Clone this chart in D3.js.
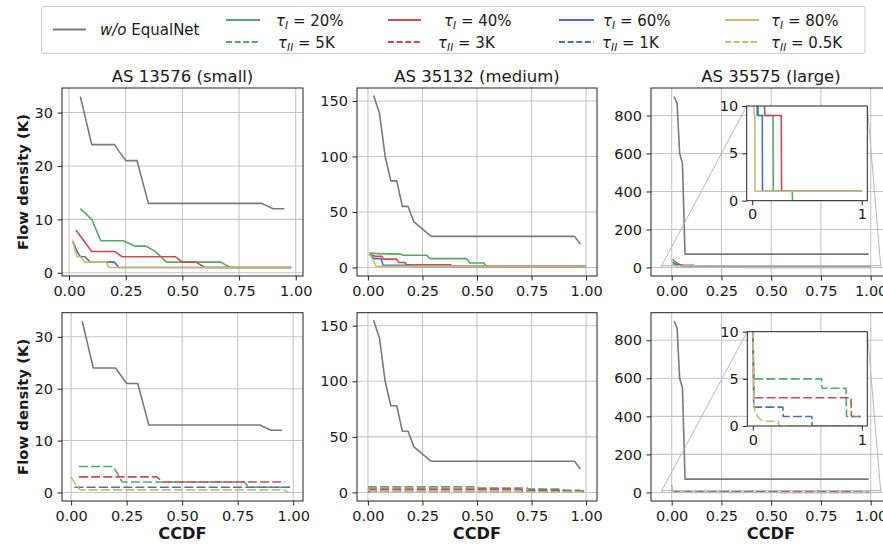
<!DOCTYPE html>
<html><head><meta charset="utf-8">
<script src="https://cdn.jsdelivr.net/npm/d3@7"></script>
<style>
body{margin:0;background:#fff}
svg{display:block}
text{font-family:"DejaVu Sans",sans-serif;fill:#1a1a1a}
</style>
</head><body>
<svg id="chart" width="883" height="546"></svg>
<script>
// ---------------- DATA ----------------
const titles = ["AS 13576 (small)", "AS 35132 (medium)", "AS 35575 (large)"];
const xTicks = [0, 0.25, 0.5, 0.75, 1.0];
const xTickLabels = ["0.00", "0.25", "0.50", "0.75", "1.00"];
const yTicksSmall = [0, 10, 20, 30];
const yTicksMedium = [0, 50, 100, 150];
const yTicksLarge = [0, 200, 400, 600, 800];
const insetXTicks = [0, 1];
const insetYTicks = [0, 5, 10];
const legendWo = ["w/o", " EqualNet"];
const legendTauI = ["20%", "40%", "60%", "80%"];
const legendTauII = ["5K", "3K", "1K", "0.5K"];

// AS 13576 (small)
const small_wo = [[0.05,33],[0.10,24],[0.20,24],[0.25,21],[0.30,21],[0.35,13],[0.85,13],[0.90,12],[0.95,12]];
const small_tI20 = [[0.05,12],[0.10,10],[0.14,6],[0.24,6],[0.29,5],[0.34,5],[0.38,4],[0.43,2],[0.67,2],[0.71,1],[0.98,1]];
const small_tI40 = [[0.03,8],[0.10,4],[0.20,4],[0.235,3],[0.47,3],[0.50,2],[0.56,2],[0.60,1],[0.98,1]];
const small_tI60 = [[0.015,6],[0.035,4],[0.05,3],[0.07,3],[0.094,2],[0.20,2],[0.22,1],[0.98,1]];
const small_tI80 = [[0.015,6],[0.035,3],[0.05,3],[0.07,2],[0.165,2],[0.175,1],[0.98,1]];
const small_tII5K = [[0.035,5],[0.19,5],[0.23,2],[0.78,2],[0.80,1],[0.985,1]];
const small_tII3K = [[0.035,3],[0.385,3],[0.415,2],[0.963,2]];
const small_tII1K = [[0.015,1],[0.985,1]];
const small_tII05K = [[0.0,3],[0.02,1.5],[0.04,0.5],[0.955,0.5],[0.98,0]];

// AS 35132 (medium)
const med_wo = [[0.026,155],[0.053,139],[0.079,100],[0.105,78],[0.132,78],[0.158,55],[0.184,55],[0.211,41],[0.29,28],[0.947,28],[0.974,21]];
const med_tI20 = [[0.005,13],[0.05,12.5],[0.15,12],[0.163,11],[0.27,11],[0.284,8],[0.452,8],[0.467,4],[0.533,4],[0.54,1],[1.0,1]];
const med_tI40 = [[0.005,12],[0.035,10],[0.065,10],[0.07,7.5],[0.132,7.5],[0.14,4.5],[0.17,4.5],[0.175,2.5],[0.38,2.5],[0.385,1],[1.0,1]];
const med_tI60 = [[0.005,12],[0.03,8],[0.06,8],[0.07,2],[0.2,2],[0.21,1],[1.0,1]];
const med_tI80 = [[0.005,13],[0.023,7],[0.038,1],[1.0,1]];
const med_tII5K = [[0.0,5],[0.5,5],[0.51,4],[0.73,4],[0.74,3],[0.88,3],[0.89,2],[0.97,2],[0.98,1],[1.0,1]];
const med_tII3K = [[0.0,3],[0.7,3],[0.71,2],[0.9,2],[0.91,1],[1.0,1]];
const med_tII1K = [[0.0,1],[1.0,1]];
const med_tII05K = [[0.0,3],[0.01,1.5],[0.03,0.5],[0.97,0.5],[1.0,0]];

// AS 35575 (large)
const large_wo = [[0.012,900],[0.027,865],[0.04,600],[0.054,550],[0.067,70],[0.99,70]];
const large_tI20 = [[0.005,45],[0.012,35],[0.02,28],[0.03,22],[0.04,15],[0.055,10],[0.056,9],[0.19,9],[0.192,1],[0.365,1],[0.368,0],[1.0,0]];
const large_tI40 = [[0.005,20],[0.02,16],[0.04,14],[0.06,12],[0.11,11],[0.115,9],[0.265,9],[0.268,1],[1.0,1]];
const large_tI60 = [[0.005,30],[0.012,22],[0.02,18],[0.03,13],[0.045,10],[0.046,9],[0.092,9],[0.094,1],[1.0,1]];
const large_tI80 = [[0.005,20],[0.01,12],[0.018,9],[0.024,9],[0.026,1],[1.0,1]];
const large_tII5K = [[0.0,14],[0.008,5],[0.63,5],[0.635,4],[0.855,4],[0.86,1],[0.99,1]];
const large_tII3K = [[0.0,12],[0.01,3],[0.9,3],[0.905,1],[0.99,1]];
const large_tII1K = [[0.0,15],[0.009,2],[0.276,2],[0.28,1],[0.54,1],[0.545,0],[1.0,0]];
const large_tII05K = [[0.0,40],[0.003,10],[0.006,4],[0.01,2.5],[0.02,1.5],[0.04,1.1],[0.07,0.7],[0.1,0.5],[0.236,0.5],[0.24,0],[1.0,0]];

// ---------------- STYLE / LAYOUT ----------------
const COL = {wo:"#7a7a7a", c20:"#55a868", c40:"#c44e52", c60:"#4c72b0", c80:"#ccb974"};
const DASH = "9,3.2";
const svg = d3.select("#chart");

const panels = [
  {l:62, r:303, t:88, b:276, xd:[-0.031,1.032], yd:[-0.6,34.6], yt:yTicksSmall, title:titles[0], ylabel:true, xlabel:false,
   series:[[small_wo,"wo",0],[small_tI20,"c20",0],[small_tI40,"c40",0],[small_tI60,"c60",0],[small_tI80,"c80",0]]},
  {l:357, r:597, t:88, b:276, xd:[-0.05,1.05], yd:[-7.7,161.7], yt:yTicksMedium, title:titles[1],
   series:[[med_wo,"wo",0],[med_tI20,"c20",0],[med_tI40,"c40",0],[med_tI60,"c60",0],[med_tI80,"c80",0]]},
  {l:651, r:891, t:88, b:276, xd:[-0.104,1.102], yd:[-45,945], yt:yTicksLarge, title:titles[2],
   inset:{l:746.7, r:867.3, t:106, b:200.7},
   series:[[large_wo,"wo",0],[large_tI20,"c20",0],[large_tI40,"c40",0],[large_tI60,"c60",0],[large_tI80,"c80",0]]},
  {l:62, r:303, t:312.7, b:501, xd:[-0.041,1.044], yd:[-1.65,34.65], yt:yTicksSmall, ylabel:true, xlabel:true,
   series:[[small_wo,"wo",0],[small_tII5K,"c20",1],[small_tII3K,"c40",1],[small_tII1K,"c60",1],[small_tII05K,"c80",1]]},
  {l:357, r:597, t:312.7, b:501, xd:[-0.05,1.05], yd:[-7.7,161.7], yt:yTicksMedium, xlabel:true,
   series:[[med_wo,"wo",0],[med_tII5K,"c20",1],[med_tII3K,"c40",1],[med_tII1K,"c60",1],[med_tII05K,"c80",1]]},
  {l:651, r:891, t:312.7, b:501, xd:[-0.104,1.102], yd:[-45,945], yt:yTicksLarge, xlabel:true,
   inset:{l:747.3, r:867.3, t:331.7, b:426},
   series:[[large_wo,"wo",0],[large_tII5K,"c20",1],[large_tII3K,"c40",1],[large_tII1K,"c60",1],[large_tII05K,"c80",1]]}
];

let clipId = 0;
function drawSeries(g, x, y, series, l, r, t, b) {
  const id = "clip" + (clipId++);
  svg.append("clipPath").attr("id", id).append("rect")
    .attr("x", l).attr("y", t).attr("width", r - l).attr("height", b - t);
  const lg = g.append("g").attr("clip-path", `url(#${id})`);
  const line = d3.line().x(d => x(d[0])).y(d => y(d[1]));
  series.forEach(([data, c, dashed]) => {
    lg.append("path").attr("d", line(data)).attr("fill", "none")
      .attr("stroke", COL[c]).attr("stroke-width", 1.6)
      .attr("stroke-linejoin", "round")
      .attr("stroke-dasharray", dashed ? DASH : null);
  });
}

function styleAxis(sel, fs) {
  sel.select(".domain").remove();
  sel.selectAll(".tick line").attr("stroke", "#222").attr("stroke-width", 1);
  sel.selectAll(".tick text").attr("font-size", fs).attr("fill", "#1a1a1a")
    .attr("font-family", "DejaVu Sans");
}

panels.forEach(p => {
  const g = svg.append("g");
  const x = d3.scaleLinear().domain(p.xd).range([p.l, p.r]);
  const y = d3.scaleLinear().domain(p.yd).range([p.b, p.t]);
  // grid
  const gg = g.append("g").attr("stroke", "#c6c6c6").attr("stroke-width", 1.1);
  xTicks.forEach(v => gg.append("line").attr("x1", x(v)).attr("x2", x(v)).attr("y1", p.t).attr("y2", p.b));
  p.yt.forEach(v => gg.append("line").attr("x1", p.l).attr("x2", Math.min(p.r, 883)).attr("y1", y(v)).attr("y2", y(v)));
  // series
  drawSeries(g, x, y, p.series, p.l, p.r, p.t, p.b);
  // spines
  g.append("rect").attr("x", p.l).attr("y", p.t).attr("width", p.r - p.l).attr("height", p.b - p.t)
    .attr("fill", "none").attr("stroke", "#222").attr("stroke-width", 1);
  // axes
  const ax = g.append("g").attr("transform", `translate(0,${p.b})`)
    .call(d3.axisBottom(x).tickValues(xTicks).tickFormat((d, i) => xTickLabels[i]).tickSize(4.5).tickPadding(5.5));
  styleAxis(ax, "14.5px");
  const ay = g.append("g").attr("transform", `translate(${p.l},0)`)
    .call(d3.axisLeft(y).tickValues(p.yt).tickFormat(d3.format("d")).tickSize(4.5).tickPadding(4.5));
  styleAxis(ay, "14.5px");
  if (p.title) g.append("text").attr("x", (p.l + p.r) / 2).attr("y", 81.5).attr("text-anchor", "middle")
    .attr("font-size", "16.5px").text(p.title);
  if (p.ylabel) g.append("text").attr("transform", `translate(28,${(p.t + p.b) / 2}) rotate(-90)`)
    .attr("text-anchor", "middle").attr("font-size", "14.8px").attr("font-weight", "bold").text("Flow density (K)");
  if (p.xlabel) g.append("text").attr("y", 539)
    .attr("text-anchor", "middle").attr("font-size", "16.2px").attr("font-weight", "bold").text("CCDF")
    .attr("x", p.l === 62 ? 182.5 : (p.l === 357 ? 477 : 771));

  if (p.inset) {
    const ins = p.inset;
    const ix = d3.scaleLinear().domain([-0.05, 1.05]).range([ins.l, ins.r]);
    const iy = d3.scaleLinear().domain([0, 10]).range([ins.b, ins.t]);
    // zoom indicator rect + connectors
    const ic = g.append("g").attr("stroke", "#b8b8b8").attr("stroke-width", 1).attr("fill", "none");
    ic.append("rect").attr("x", x(-0.05)).attr("y", y(10)).attr("width", x(1.05) - x(-0.05)).attr("height", y(0) - y(10));
    ic.append("line").attr("x1", x(-0.05)).attr("y1", y(10)).attr("x2", ins.l).attr("y2", ins.t);
    ic.append("line").attr("x1", x(1.05)).attr("y1", y(10)).attr("x2", ins.r).attr("y2", ins.t);
    g.append("rect").attr("x", ins.l).attr("y", ins.t).attr("width", ins.r - ins.l).attr("height", ins.b - ins.t)
      .attr("fill", "#fff");
    drawSeries(g, ix, iy, p.series, ins.l, ins.r, ins.t, ins.b);
    g.append("rect").attr("x", ins.l).attr("y", ins.t).attr("width", ins.r - ins.l).attr("height", ins.b - ins.t)
      .attr("fill", "none").attr("stroke", "#222").attr("stroke-width", 1);
    const iax = g.append("g").attr("transform", `translate(0,${ins.b})`)
      .call(d3.axisBottom(ix).tickValues(insetXTicks).tickFormat(d3.format("d")).tickSize(4.5).tickPadding(4));
    styleAxis(iax, "14.5px");
    const iay = g.append("g").attr("transform", `translate(${ins.l},0)`)
      .call(d3.axisLeft(iy).tickValues(insetYTicks).tickFormat(d3.format("d")).tickSize(4.5).tickPadding(4));
    styleAxis(iay, "14.5px");
  }
});

// ---------------- LEGEND ----------------
const leg = svg.append("g");
leg.append("rect").attr("x", 41.5).attr("y", 6.5).attr("width", 823.5).attr("height", 47)
  .attr("fill", "#fff").attr("stroke", "#cccccc").attr("stroke-width", 1).attr("rx", 2);
leg.append("line").attr("x1", 53).attr("x2", 86).attr("y1", 29.5).attr("y2", 29.5)
  .attr("stroke", COL.wo).attr("stroke-width", 2);
const woT = leg.append("text").attr("x", 100).attr("y", 35).attr("font-size", "15px");
woT.append("tspan").attr("font-style", "italic").text(legendWo[0]);
woT.append("tspan").text(legendWo[1]);

const legCols = [
  {c:"c20", x1:226, x2:260, tx1:276, tx2:278},
  {c:"c40", x1:388, x2:421, tx1:444, tx2:438},
  {c:"c60", x1:559, x2:594, tx1:603, tx2:602},
  {c:"c80", x1:725, x2:759, tx1:771, tx2:771}
];
legCols.forEach((lc, i) => {
  [[20, legendTauI[i], "I", false, lc.tx1], [42, legendTauII[i], "II", true, lc.tx2]].forEach(([yy, val, sub, dashed, tx]) => {
    leg.append("line").attr("x1", lc.x1).attr("x2", lc.x2).attr("y1", yy).attr("y2", yy)
      .attr("stroke", COL[lc.c]).attr("stroke-width", 2).attr("stroke-dasharray", dashed ? "6,2.6" : null);
    const t = leg.append("text").attr("x", tx).attr("y", yy + 5.5).attr("font-size", "15px");
    t.append("tspan").attr("font-style", "italic").text("τ");
    t.append("tspan").attr("font-style", "italic").attr("font-size", "10.5px").attr("dy", 3.5).text(sub);
    t.append("tspan").attr("dy", -3.5).text(" = " + val);
  });
});
</script>
</body></html>
